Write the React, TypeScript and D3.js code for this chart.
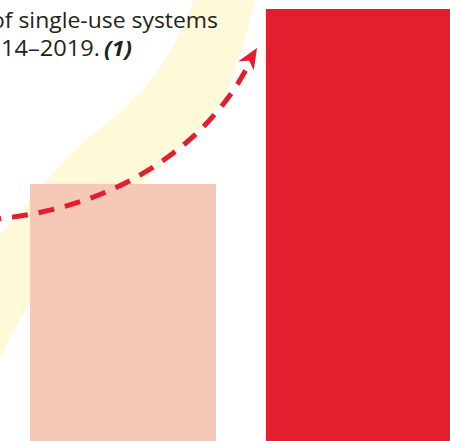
import React from "react";
import * as d3 from "d3";

const categories = ["2014", "2019"];
const values = [59.5, 100];
const barColors = ["#F5C8B8", "#E31F2F"];
const line1 = "of single-use systems";
const line2 = "14–2019.";
const line2b = "(1)";

const W = 450;
const H = 441;

// decorative band edges (annotation, not data)
const bandLeft: [number, number][] = [
  [204, -20], [194, 0], [165, 60], [130, 103], [75, 150], [30, 200], [0, 235], [-25, 262],
];
const bandRight: [number, number][] = [
  [-25, 400], [0, 358], [30, 303], [90, 236], [140, 185], [167, 160], [197, 130], [223, 100], [238, 60], [247, 30], [255, 0], [259, -20],
];

export default function App() {
  const x = d3.scaleBand<string>().domain(categories).range([30, 452]).paddingInner(50 / 236).paddingOuter(0);
  const y = d3.scaleLinear().domain([0, 100]).range([H, 9]);

  const edge = d3.line().curve(d3.curveCatmullRom.alpha(0.5));
  const bandPath = edge(bandLeft)! + "L" + edge(bandRight)!.slice(1) + "Z";

  const T: [number, number] = [257, 48];
  const d = [0.52, -0.854];
  const p = [0.854, 0.52];
  const L = 21, Wd = 9, N = 6;
  const base = [T[0] - L * d[0], T[1] - L * d[1]];
  const notch = [T[0] - (L - N) * d[0], T[1] - (L - N) * d[1]];
  const head = [
    T,
    [base[0] + Wd * p[0], base[1] + Wd * p[1]],
    notch,
    [base[0] - Wd * p[0], base[1] - Wd * p[1]],
  ];
  const headPath = "M" + head.map((q) => q.join(",")).join("L") + "Z";

  return (
    <svg width={W} height={H} style={{ position: "absolute", left: 0, top: 0, display: "block" }}>
      <rect width={W} height={H} fill="#ffffff" />
      <path d={bandPath} fill="#FEF9D8" />
      <g fontFamily="'Open Sans', 'Noto Sans', sans-serif" fill="#231F20" fontSize={22}>
        <text x={-9} y={28} textLength={227} lengthAdjust="spacingAndGlyphs">{line1}</text>
        <text x={1} y={56} textLength={99} lengthAdjust="spacingAndGlyphs">{line2}</text>
        <text x={104} y={56} fontWeight="bold" fontStyle="italic" textLength={28} lengthAdjust="spacingAndGlyphs">{line2b}</text>
      </g>
      {categories.map((c, i) => (
        <rect key={c} x={x(c)} y={y(values[i])} width={x.bandwidth()} height={H - y(values[i])} fill={barColors[i]} />
      ))}
      <path
        d="M-5,219 C120,208 210,142 250,62"
        fill="none"
        stroke="#E31F2F"
        strokeWidth={5}
        strokeDasharray="16 11"
        strokeDashoffset={10}
      />
      <path d={headPath} fill="#E31F2F" />
    </svg>
  );
}
